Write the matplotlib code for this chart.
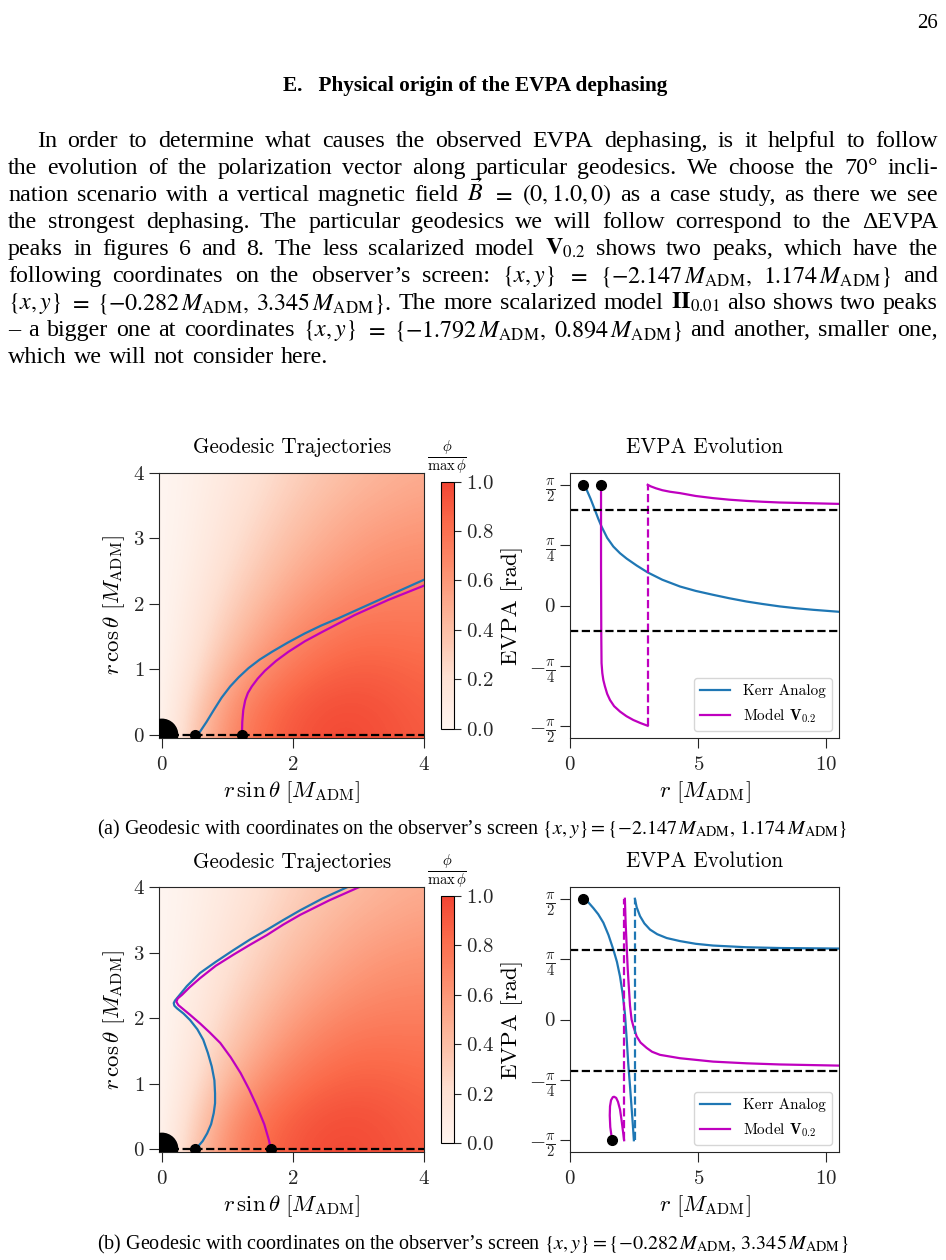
import numpy as np
import matplotlib
matplotlib.use("Agg")
import matplotlib.pyplot as plt
from matplotlib.colors import ListedColormap
from matplotlib.patches import Circle

# ---------------- data ----------------
# phi / max(phi) on a coarse grid, x = 0..4 (step 0.5), y = 0..4 (step 0.5), rows = y
phi_grid = np.array([
    [0.00, 0.35, 0.65, 0.82, 0.92, 0.97, 0.97, 0.94, 0.90],
    [0.00, 0.28, 0.58, 0.77, 0.88, 0.94, 0.95, 0.92, 0.88],
    [0.00, 0.20, 0.45, 0.64, 0.77, 0.85, 0.88, 0.87, 0.84],
    [0.00, 0.15, 0.35, 0.52, 0.66, 0.75, 0.80, 0.80, 0.79],
    [0.00, 0.12, 0.28, 0.43, 0.56, 0.65, 0.71, 0.73, 0.73],
    [0.00, 0.09, 0.22, 0.35, 0.47, 0.56, 0.62, 0.66, 0.67],
    [0.00, 0.07, 0.18, 0.29, 0.40, 0.48, 0.55, 0.59, 0.61],
    [0.00, 0.06, 0.15, 0.24, 0.34, 0.42, 0.48, 0.52, 0.55],
    [0.00, 0.05, 0.12, 0.20, 0.29, 0.36, 0.42, 0.46, 0.49],
])
horizon_r = 0.24

# (a) trajectories in the meridional plane
kerr_a_x = [0.53, 0.58, 0.68, 0.79, 0.91, 1.04, 1.17, 1.32, 1.49, 1.68, 1.92, 2.18, 2.43, 2.69, 3.20, 3.71, 4.00]
kerr_a_y = [0.00, 0.05, 0.20, 0.38, 0.57, 0.74, 0.88, 1.02, 1.15, 1.27, 1.41, 1.55, 1.67, 1.78, 2.01, 2.24, 2.37]
mod_a_x = [1.22, 1.225, 1.24, 1.27, 1.31, 1.37, 1.46, 1.57, 1.74, 1.93, 2.18, 2.44, 2.94, 3.45, 4.00]
mod_a_y = [0.00, 0.20, 0.38, 0.53, 0.64, 0.74, 0.86, 0.98, 1.13, 1.27, 1.43, 1.57, 1.83, 2.06, 2.28]
start_a_x = [0.51, 1.22]

# (a) EVPA along the geodesics
kerr_a_r = [0.50, 0.65, 0.80, 0.97, 1.10, 1.23, 1.45, 1.69, 1.95, 2.21, 2.60, 3.03, 3.60,
            4.29, 4.90, 5.58, 6.20, 6.88, 7.50, 8.18, 8.80, 9.48, 10.5]
kerr_a_evpa = [1.571, 1.505, 1.39, 1.245, 1.13, 1.027, 0.88, 0.767, 0.68, 0.61, 0.52, 0.43, 0.335,
               0.247, 0.19, 0.139, 0.095, 0.052, 0.02, -0.012, -0.035, -0.056, -0.082]
mod_a_r1 = [1.21, 1.21, 1.22, 1.23, 1.26, 1.30, 1.36, 1.45, 1.56, 1.72, 1.95, 2.20, 2.47, 2.75, 3.03]
mod_a_evpa1 = [1.571, 0.50, -0.40, -0.75, -0.88, -0.97, -1.05, -1.15, -1.23, -1.31, -1.38, -1.44, -1.49, -1.53, -1.565]
mod_a_r2 = [3.03, 3.15, 3.35, 3.60, 3.90, 4.29, 4.90, 5.58, 6.20, 6.88, 7.50, 8.18, 9.48, 10.5]
mod_a_evpa2 = [1.571, 1.55, 1.525, 1.50, 1.48, 1.462, 1.425, 1.397, 1.377, 1.361, 1.35, 1.34, 1.33, 1.322]
mod_a_jump = 3.03
ref_a = [1.24, -0.33]

# (b) trajectories
kerr_b_x = [0.51, 0.56, 0.62, 0.69, 0.75, 0.79, 0.81, 0.81, 0.80, 0.76, 0.70, 0.63, 0.54, 0.43, 0.33,
            0.23, 0.19, 0.18, 0.20, 0.25, 0.38, 0.58, 0.82, 1.09, 1.34, 1.60, 1.85, 2.11, 2.45, 2.82]
kerr_b_y = [0.00, 0.05, 0.12, 0.24, 0.38, 0.55, 0.70, 0.85, 1.05, 1.26, 1.47, 1.67, 1.83, 1.97, 2.07,
            2.15, 2.19, 2.23, 2.27, 2.33, 2.49, 2.69, 2.86, 3.04, 3.20, 3.35, 3.50, 3.65, 3.83, 4.00]
mod_b_x = [1.66, 1.63, 1.56, 1.45, 1.33, 1.20, 1.05, 0.89, 0.73, 0.58, 0.43, 0.31, 0.25, 0.22, 0.24,
           0.31, 0.42, 0.58, 0.82, 1.09, 1.34, 1.60, 1.85, 2.11, 2.55, 3.00]
mod_b_y = [0.00, 0.14, 0.38, 0.65, 0.91, 1.16, 1.40, 1.62, 1.78, 1.92, 2.05, 2.15, 2.20, 2.25, 2.30,
           2.36, 2.47, 2.61, 2.80, 2.97, 3.12, 3.27, 3.43, 3.58, 3.80, 4.00]
start_b_x = [0.51, 1.66]

# (b) EVPA
kerr_b_r1 = [0.50, 0.70, 0.91, 1.10, 1.30, 1.50, 1.69, 1.83, 1.95, 2.05, 2.14, 2.21, 2.27, 2.34, 2.40, 2.45, 2.49]
kerr_b_evpa1 = [1.571, 1.53, 1.45, 1.37, 1.26, 1.10, 0.91, 0.75, 0.56, 0.34, 0.08, -0.25, -0.57, -0.87,
                -1.14, -1.37, -1.571]
kerr_b_r2 = [2.53, 2.60, 2.73, 2.90, 3.12, 3.40, 3.77, 4.29, 4.90, 5.58, 6.88, 8.18, 10.5]
kerr_b_evpa2 = [1.571, 1.46, 1.345, 1.25, 1.17, 1.11, 1.06, 1.02, 0.985, 0.962, 0.94, 0.93, 0.923]
kerr_b_jump = 2.53
mod_b_r1 = [1.64, 1.57, 1.55, 1.56, 1.60, 1.67, 1.72, 1.80, 1.87, 1.95, 2.01, 2.06, 2.11]
mod_b_evpa1 = [-1.571, -1.40, -1.25, -1.13, -1.05, -1.01, -1.005, -1.02, -1.07, -1.17, -1.31, -1.44, -1.571]
mod_b_r2 = [2.14, 2.17, 2.21, 2.25, 2.30, 2.34, 2.40, 2.48, 2.60, 2.75, 2.99, 3.20, 3.51, 4.29, 5.58, 6.88, 8.18, 10.5]
mod_b_evpa2 = [1.571, 1.25, 0.95, 0.66, 0.39, 0.18, 0.0, -0.10, -0.22, -0.30, -0.37, -0.42, -0.46,
               -0.504, -0.548, -0.57, -0.585, -0.60]
mod_b_jump = 2.12
ref_b = [0.90, -0.67]
dots_b_r = [0.50, 1.65]
dots_b_evpa = [np.pi / 2, -np.pi / 2]

# ---------------- page text ----------------
para = [
    "In order to determine what causes the observed EVPA dephasing, is it helpful to follow",
    "the evolution of the polarization vector along particular geodesics.  We choose the 70° incli-",
    r"nation scenario with a vertical magnetic field $\vec{B}$ $=$ $(0,1.0,0)$ as a case study, as there we see",
    "the strongest dephasing.  The particular geodesics we will follow correspond to the ΔEVPA",
    r"peaks in figures 6 and 8.  The less scalarized model $\mathbf{V}_{0.2}$ shows two peaks, which have the",
    r"following coordinates on the observer’s screen: $\{x,y\}$ $=$ $\{-2.147\,M_{\mathrm{ADM}},$ $1.174\,M_{\mathrm{ADM}}\}$ and",
    r"$\{x,y\}$ $=$ $\{-0.282\,M_{\mathrm{ADM}},$ $3.345\,M_{\mathrm{ADM}}\}$. The more scalarized model $\mathbf{II}_{0.01}$ also shows two peaks",
    r"– a bigger one at coordinates $\{x,y\}$ $=$ $\{-1.792\,M_{\mathrm{ADM}},$ $0.894\,M_{\mathrm{ADM}}\}$ and another, smaller one,",
    "which we will not consider here.",
]
cap_a = r"(a) Geodesic with coordinates on the observer’s screen $\{x,y\} = \{-2.147\,M_{\mathrm{ADM}},\, 1.174\,M_{\mathrm{ADM}}\}$"
cap_b = r"(b) Geodesic with coordinates on the observer’s screen $\{x,y\} = \{-0.282\,M_{\mathrm{ADM}},\, 3.345\,M_{\mathrm{ADM}}\}$"

# ---------------- style ----------------
plt.rcParams["font.family"] = "serif"
plt.rcParams["font.serif"] = ["cmr10"]
plt.rcParams["mathtext.fontset"] = "cm"
plt.rcParams["axes.formatter.use_mathtext"] = True
plt.rcParams["axes.edgecolor"] = "0.15"
plt.rcParams["xtick.color"] = "0.15"
plt.rcParams["ytick.color"] = "0.15"
plt.rcParams["xtick.major.size"] = 7
plt.rcParams["ytick.major.size"] = 7
plt.rcParams["xtick.major.pad"] = 5.5
plt.rcParams["xtick.labelsize"] = 15
plt.rcParams["ytick.labelsize"] = 15
plt.rcParams["axes.labelsize"] = 16.5
plt.rcParams["axes.titlesize"] = 15.2

W, H = 946, 1260
fig = plt.figure(figsize=(W / 100, H / 100), dpi=100)
renderer = fig.canvas.get_renderer()
BLUE = "#1f77b4"
MAG = "m"
cmap = ListedColormap(plt.cm.Reds(np.linspace(0, 0.6, 256)))


def box(x0, y0, x1, y1):
    return [x0 / W, 1 - y1 / H, (x1 - x0) / W, (y1 - y0) / H]


def ptext(x, y, s, **kw):
    return fig.text(x / W, 1 - y / H, s, **kw)


def geo_panel(top, bottom, cb_top, cb_bottom, kx, ky, mx, my, starts):
    ax = fig.add_axes(box(159.3, top, 424.3, bottom))
    im = ax.imshow(phi_grid, origin="lower", extent=(-0.25, 4.25, -0.25, 4.25),
                   cmap=cmap, vmin=0, vmax=1, interpolation="bicubic", aspect="auto")
    ax.plot(kx, ky, color=BLUE, lw=1.6)
    ax.plot(mx, my, color=MAG, lw=1.6)
    ax.axhline(0, color="k", ls="--", lw=1.6)
    ax.add_patch(Circle((0, 0), horizon_r, color="k", zorder=5))
    ax.plot(starts, np.zeros(len(starts)), "o", color="k", ms=7, zorder=6)
    ax.set_xlim(-0.04, 4)
    ax.set_ylim(-0.05, 4)
    ax.set_xticks([0, 2, 4])
    ax.set_yticks([0, 1, 2, 3, 4])
    ax.set_title("Geodesic Trajectories", pad=14)
    ax.set_xlabel(r"$r\,\sin\theta\ [M_{\rm ADM}]$")
    ax.set_ylabel(r"$r\,\cos\theta\ [M_{\rm ADM}]$")
    cax = fig.add_axes(box(441, cb_top, 454, cb_bottom))
    cb = fig.colorbar(im, cax=cax, ticks=[0, 0.2, 0.4, 0.6, 0.8, 1.0])
    cb.ax.tick_params(length=5)
    cb.outline.set_edgecolor("k")
    ptext(447, cb_top - 24, r"$\frac{\phi}{\max\,\phi}$", fontsize=15, ha="center", va="center")


def evpa_panel(top, bottom, segs, jumps, dots_r, dots_e, refs):
    ax = fig.add_axes(box(570, top, 839.3, bottom))
    for r, e, c, lab in segs:
        ax.plot(r, e, color=c, lw=1.6, label=lab)
    for r, c in jumps:
        ax.plot([r, r], [-np.pi / 2, np.pi / 2], color=c, ls="--", lw=1.6)
    for v in refs:
        ax.axhline(v, color="k", ls="--", lw=1.6)
    ax.plot(dots_r, dots_e, "o", color="k", ms=7, zorder=6)
    ax.set_xlim(0, 10.5)
    ax.set_ylim(-1.1 * np.pi / 2, 1.1 * np.pi / 2)
    ax.set_xticks([0, 5, 10])
    ax.set_yticks([-np.pi / 2, -np.pi / 4, 0, np.pi / 4, np.pi / 2])
    ax.set_yticklabels([r"$-\frac{\pi}{2}$", r"$-\frac{\pi}{4}$", r"$0$",
                        r"$\frac{\pi}{4}$", r"$\frac{\pi}{2}$"])
    ax.set_title("EVPA Evolution", pad=14)
    ax.set_xlabel(r"$r\ [M_{\rm ADM}]$")
    ax.set_ylabel("EVPA [rad]")
    h, l = ax.get_legend_handles_labels()
    keep = [i for i, s in enumerate(l) if not s.startswith("_")]
    ax.legend([h[i] for i in keep], [l[i] for i in keep], loc="lower right", fontsize=11)


# panel (a)
geo_panel(472.7, 738.3, 481.7, 728.5, kerr_a_x, kerr_a_y, mod_a_x, mod_a_y, start_a_x)
evpa_panel(472.7, 738.3,
           [(kerr_a_r, kerr_a_evpa, BLUE, "Kerr Analog"),
            (mod_a_r1, mod_a_evpa1, MAG, r"Model $\mathbf{V}_{0.2}$"),
            (mod_a_r2, mod_a_evpa2, MAG, "_m2")],
           [(mod_a_jump, MAG)],
           [kerr_a_r[0], mod_a_r1[0]], [np.pi / 2, np.pi / 2], ref_a)

# panel (b)
geo_panel(887.3, 1152.3, 896, 1143.3, kerr_b_x, kerr_b_y, mod_b_x, mod_b_y, start_b_x)
evpa_panel(886.7, 1152.3,
           [(kerr_b_r1, kerr_b_evpa1, BLUE, "Kerr Analog"),
            (kerr_b_r2, kerr_b_evpa2, BLUE, "_k2"),
            (mod_b_r1, mod_b_evpa1, MAG, r"Model $\mathbf{V}_{0.2}$"),
            (mod_b_r2, mod_b_evpa2, MAG, "_m2")],
           [(mod_b_jump, MAG), (kerr_b_jump, BLUE)],
           dots_b_r, dots_b_evpa, ref_b)

# ---------------- page text ----------------
TXT = dict(family="Liberation Serif", math_fontfamily="stix", color="k")


def fit(t, width):
    w = t.get_window_extent(renderer).width
    t.set_fontsize(t.get_fontsize() * width / w)


ptext(938, 28, "26", fontsize=15, ha="right", va="baseline", **TXT)
head = ptext(475, 91, "E.   Physical origin of the EVPA dephasing", fontsize=14,
             weight="bold", ha="center", va="baseline", **TXT)
fit(head, 386)

# body text: pick one size so that the fullest line fits with normal spaces, then justify
base = 15
lines = []
scale = 10.0
for i, line in enumerate(para):
    x0 = 37 if i == 0 else 8
    items = [ptext(0, 146.7 + i * 27.08, tk, fontsize=base, ha="left", va="baseline", **TXT)
             for tk in line.split()]
    widths = [t.get_window_extent(renderer).width for t in items]
    lines.append((x0, items, widths))
    if i < len(para) - 1:
        need = sum(widths) + (len(items) - 1) * base * 0.30 * 100 / 72
        scale = min(scale, (938 - x0) / need)

size = base * scale
for i, (x0, items, widths) in enumerate(lines):
    for t in items:
        t.set_fontsize(size)
    widths = [w * scale for w in widths]
    if i < len(lines) - 1:
        gap = (938 - x0 - sum(widths)) / (len(items) - 1)
    else:
        gap = size * 0.30 * 100 / 72
    x = x0
    for t, w in zip(items, widths):
        t.set_x(x / W)
        x += w + gap

for cap, y in [(cap_a, 834), (cap_b, 1249)]:
    t = ptext(472.5, y, cap, fontsize=12, ha="center", va="baseline", **TXT)
    fit(t, 751)

fig.savefig("out.png", dpi=100)
